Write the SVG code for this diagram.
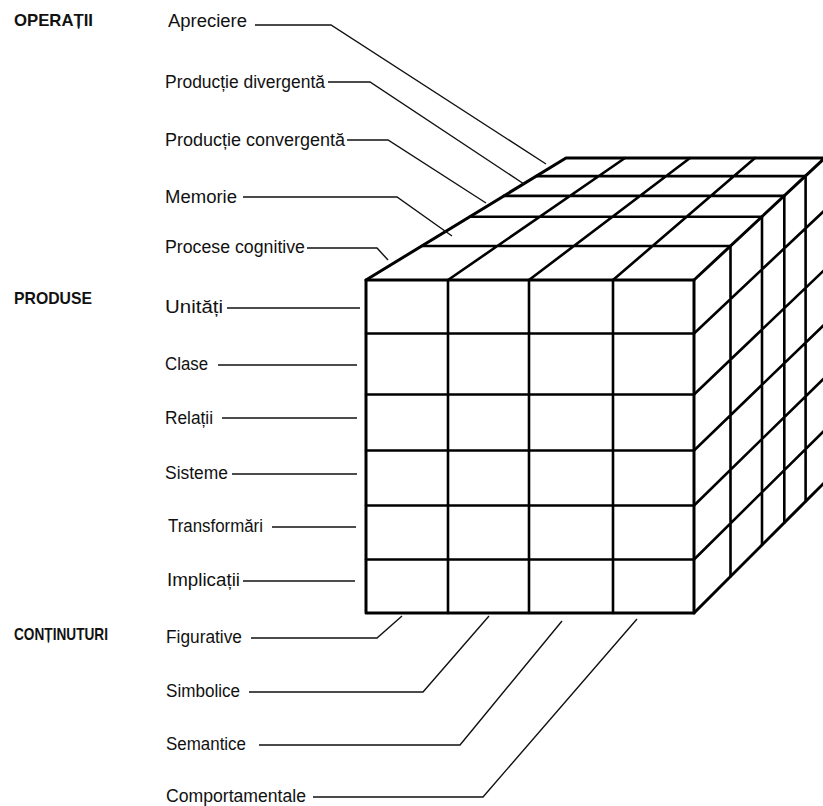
<svg xmlns="http://www.w3.org/2000/svg" width="823" height="806" viewBox="0 0 823 806">
<style>
  .bg{fill:#ffffff}
  .lbl{font-family:"Liberation Sans","DejaVu Sans",sans-serif;font-size:17.5px;fill:#111}
  .cat{font-family:"Liberation Sans","DejaVu Sans",sans-serif;font-size:17px;font-weight:bold;fill:#111}
  .grid{fill:none;stroke:#000;stroke-width:2.6;stroke-linecap:round;stroke-linejoin:round}
  .edge{fill:none;stroke:#000;stroke-width:3;stroke-linecap:round;stroke-linejoin:round}
  .con{fill:none;stroke:#111;stroke-width:1.4;stroke-linejoin:miter}
</style>
<rect class="bg" x="0" y="0" width="823" height="806"/>

<g id="cube">
  <g id="front-face">
    <path class="grid" d="M448,280 V613 M529,280 V613 M613,280 V613 M366,333.5 H694 M366,394.5 H694 M366,450.5 H694 M366,505.5 H694 M366,559.5 H694"/>
    <path class="edge" d="M366,280 H694 V613 H366 Z"/>
  </g>
  <g id="top-face">
    <path class="grid" d="M421.8,246 H730.5 M469.8,216.7 H762 M503.8,195.9 H784.3 M536.4,176.1 H805.6 M448,280 L625,158 M529,280 L690,158 M613,280 L755,158"/>
    <path class="edge" d="M366,280 L566,158 H828 M694,280 L828,155"/>
  </g>
  <g id="right-face">
    <path class="grid" d="M730.5,246 V576.4 M762,216.7 V545 M784.3,195.9 V522.7 M805.6,176.1 V501.4 M825,158 V482 M694,333.5 L825,210 M694,394.5 L825,269.4 M694,450.5 L825,323.9 M694,505.5 L825,377.4 M694,559.5 L825,429.9"/>
    <path class="edge" d="M694,613 L828,479"/>
  </g>
</g>

<g id="connectors">
  <path class="con" d="M255,25 H331 L546,164"/>
  <path class="con" d="M328,82 H370 L524,184"/>
  <path class="con" d="M347,140 H388 L486,203"/>
  <path class="con" d="M243,197 H397 L452,236"/>
  <path class="con" d="M307,248 H377 L388,260"/>
  <path class="con" d="M227,308 H360"/>
  <path class="con" d="M218,365 H357"/>
  <path class="con" d="M222,418 H357"/>
  <path class="con" d="M232,474 H357"/>
  <path class="con" d="M272,527 H356"/>
  <path class="con" d="M243,581 H355"/>
  <path class="con" d="M251,638 H377 L402,616"/>
  <path class="con" d="M249,692 H423 L489,616"/>
  <path class="con" d="M259,745 H460 L562,621"/>
  <path class="con" d="M313,797 H483 L637,619"/>
</g>

<g id="cat-operatii"><text class="cat" x="14" y="26" textLength="79" lengthAdjust="spacingAndGlyphs">OPERAȚII</text></g>
<g id="cat-produse"><text class="cat" x="14" y="304" textLength="78" lengthAdjust="spacingAndGlyphs">PRODUSE</text></g>
<g id="cat-continuturi"><text class="cat" x="14" y="640" textLength="94" lengthAdjust="spacingAndGlyphs">CONȚINUTURI</text></g>

<g id="op-apreciere"><text class="lbl" x="168" y="27" textLength="79" lengthAdjust="spacingAndGlyphs">Apreciere</text></g>
<g id="op-divergenta"><text class="lbl" x="165" y="88" textLength="160" lengthAdjust="spacingAndGlyphs">Producție divergentă</text></g>
<g id="op-convergenta"><text class="lbl" x="165" y="146" textLength="180" lengthAdjust="spacingAndGlyphs">Producție convergentă</text></g>
<g id="op-memorie"><text class="lbl" x="165" y="203" textLength="72" lengthAdjust="spacingAndGlyphs">Memorie</text></g>
<g id="op-procese"><text class="lbl" x="165" y="253" textLength="140" lengthAdjust="spacingAndGlyphs">Procese cognitive</text></g>

<g id="pr-unitati"><text class="lbl" x="165" y="313" textLength="58" lengthAdjust="spacingAndGlyphs">Unități</text></g>
<g id="pr-clase"><text class="lbl" x="165" y="370" textLength="43" lengthAdjust="spacingAndGlyphs">Clase</text></g>
<g id="pr-relatii"><text class="lbl" x="165" y="424" textLength="48" lengthAdjust="spacingAndGlyphs">Relații</text></g>
<g id="pr-sisteme"><text class="lbl" x="165" y="479" textLength="63" lengthAdjust="spacingAndGlyphs">Sisteme</text></g>
<g id="pr-transformari"><text class="lbl" x="168" y="532" textLength="95" lengthAdjust="spacingAndGlyphs">Transformări</text></g>
<g id="pr-implicatii"><text class="lbl" x="167" y="586" textLength="73" lengthAdjust="spacingAndGlyphs">Implicații</text></g>

<g id="co-figurative"><text class="lbl" x="166" y="643" textLength="76" lengthAdjust="spacingAndGlyphs">Figurative</text></g>
<g id="co-simbolice"><text class="lbl" x="166" y="697" textLength="74" lengthAdjust="spacingAndGlyphs">Simbolice</text></g>
<g id="co-semantice"><text class="lbl" x="166" y="750" textLength="80" lengthAdjust="spacingAndGlyphs">Semantice</text></g>
<g id="co-comportamentale"><text class="lbl" x="166" y="802" textLength="140" lengthAdjust="spacingAndGlyphs">Comportamentale</text></g>
</svg>
